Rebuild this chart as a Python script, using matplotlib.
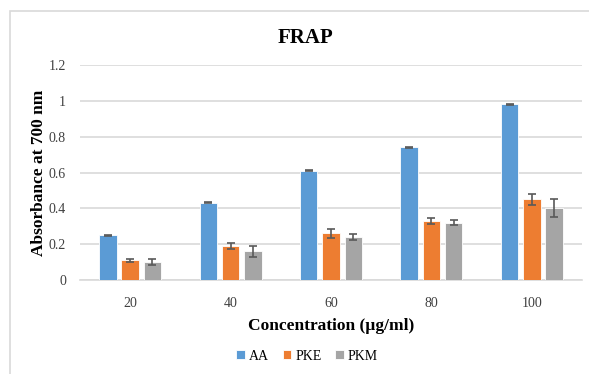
import numpy as np
import matplotlib.pyplot as plt
from matplotlib.patches import Rectangle

# data
concentrations = ["20", "40", "60", "80", "100"]
aa = [0.25, 0.43, 0.61, 0.74, 0.98]
pke = [0.11, 0.19, 0.26, 0.33, 0.45]
pkm = [0.10, 0.16, 0.24, 0.32, 0.40]
aa_err = [0.002, 0.003, 0.002, 0.002, 0.002]
pke_err = [0.008, 0.015, 0.025, 0.015, 0.03]
pkm_err = [0.017, 0.03, 0.015, 0.015, 0.05]

serif = ["Liberation Serif", "DejaVu Serif"]
plt.rcParams['font.family'] = serif

fig = plt.figure(figsize=(5.89, 3.74), dpi=100)
# outer chart border
fig.patches.append(Rectangle((10/589, -0.1), 1.2, 1 - 11/374 + 0.1, transform=fig.transFigure,
                             fill=False, edgecolor="#d9d9d9", linewidth=1.2))

ax = fig.add_axes([80/589, 1 - 280/374, 502/589, 215/374])
x = np.arange(len(concentrations))
w = 0.174
step = 0.222
colors = ["#5b9bd5", "#ed7d31", "#a5a5a5"]
err_kw = dict(ecolor="#595959", elinewidth=1.2, capsize=3, capthick=1.2)
ax.bar(x - step, aa, w, yerr=aa_err, color=colors[0], edgecolor="white", linewidth=0.6, label="AA", error_kw=err_kw, zorder=3)
ax.bar(x, pke, w, yerr=pke_err, color=colors[1], edgecolor="white", linewidth=0.6, label="PKE", error_kw=err_kw, zorder=3)
ax.bar(x + step, pkm, w, yerr=pkm_err, color=colors[2], edgecolor="white", linewidth=0.6, label="PKM", error_kw=err_kw, zorder=3)

ax.set_xlim(-0.5, len(concentrations) - 0.5)
ax.set_ylim(0, 1.2)
ax.set_yticks([0, 0.2, 0.4, 0.6, 0.8, 1.0, 1.2])
ax.set_yticklabels(["0", "0.2", "0.4", "0.6", "0.8", "1", "1.2"])
ax.set_xticks(x)
ax.set_xticklabels(concentrations)
ax.tick_params(axis="both", length=0, labelsize=10, colors="#404040")
ax.tick_params(axis="x", pad=12)
ax.tick_params(axis="y", pad=10)
ax.grid(axis="y", color="#d9d9d9", linewidth=1.2, zorder=0)
for s in ["top", "right", "left"]:
    ax.spines[s].set_visible(False)
ax.spines["bottom"].set_color("#d9d9d9")
ax.spines["bottom"].set_linewidth(1.2)

fig.text(305/589, 1 - 38/374, "FRAP", fontsize=15, fontweight="bold", ha="center", va="center")
ax.set_xlabel("Concentration (µg/ml)", fontsize=12.5, fontweight="bold", labelpad=6)
ax.set_ylabel("Absorbance at 700 nm", fontsize=12.5, fontweight="bold", labelpad=1)

ax.legend(loc="center", bbox_to_anchor=(307/589, 1 - 356/374), bbox_transform=fig.transFigure,
          ncol=3, frameon=False, fontsize=10, handlelength=0.6, handleheight=0.6,
          handletextpad=0.3, columnspacing=1.0)

fig.savefig("out.png", dpi=100)
